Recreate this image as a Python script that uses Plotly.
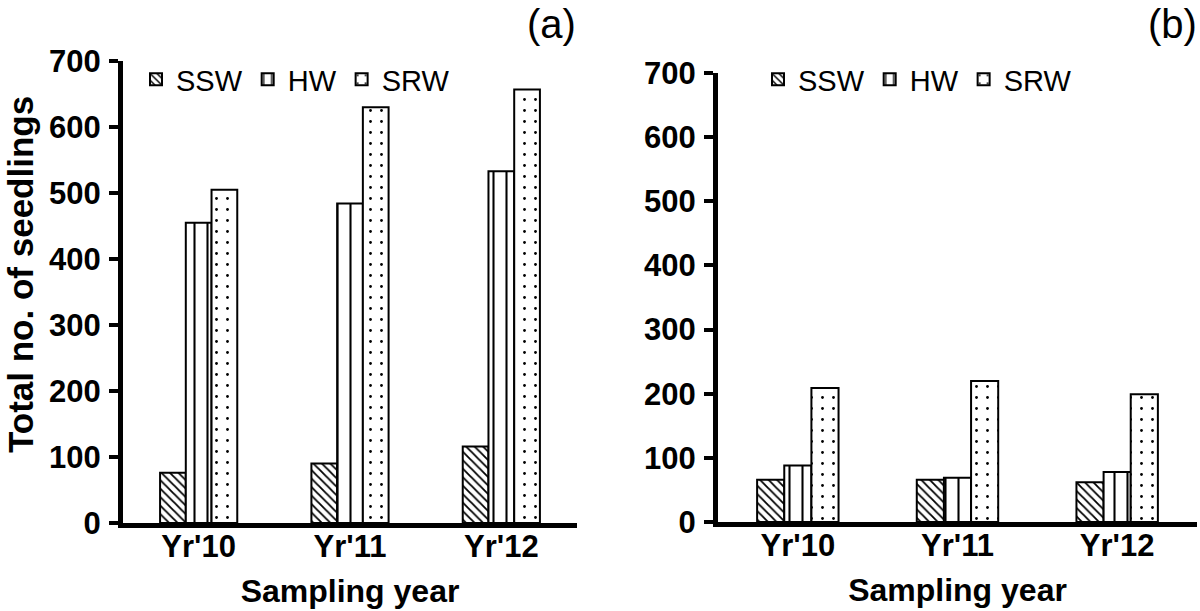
import plotly.graph_objects as go

categories = ["Yr'10", "Yr'11", "Yr'12"]
series_names = ["SSW", "HW", "SRW"]
a_ssw = [76, 90, 116]
a_hw = [455, 484, 533]
a_srw = [505, 630, 657]
b_ssw = [66, 66, 62]
b_hw = [88, 69, 78]
b_srw = [209, 220, 199]
y_ticks = [0, 100, 200, 300, 400, 500, 600, 700]

W, H = 1200, 611
FONT = "Liberation Sans, Arial, sans-serif"

patterns = {
    "SSW": dict(shape="\\", size=6, solidity=0.3),
    "HW": dict(shape="|", size=13, solidity=0.16),
    "SRW": dict(shape=".", size=11, solidity=0.05),
}

fig = go.Figure()


def add_panel(vals, xa, ya, legend):
    for name, v in zip(series_names, vals):
        p = patterns[name]
        fig.add_trace(go.Bar(
            x=categories, y=v, name=name, xaxis=xa, yaxis=ya, legend=legend,
            marker=dict(color="white", line=dict(color="black", width=2),
                        pattern=dict(shape=p["shape"], size=p["size"], solidity=p["solidity"],
                                     fgcolor="black", bgcolor="white", fillmode="replace")),
            hoverinfo="x+y+name",
        ))


add_panel([a_ssw, a_hw, a_srw], "x", "y", "legend")
add_panel([b_ssw, b_hw, b_srw], "x2", "y2", "legend2")


def px_x(p):
    return p / W


def px_y(p):
    return 1 - p / H


tickfont = dict(family=FONT, size=31, color="black", weight="bold")
titlefont = dict(family=FONT, size=32, color="black", weight="bold")

xcommon = dict(type="category", range=[-0.5, 2.5], showline=True, linecolor="black", linewidth=5,
               ticks="", tickfont=tickfont, showgrid=False, zeroline=False, automargin=False,
               ticklabelstandoff=-8, title=dict(text="Sampling year", font=titlefont, standoff=18))
ycommon = dict(range=[0, 700], tickvals=y_ticks, showline=True, linecolor="black", linewidth=5,
               ticks="outside", ticklen=9, tickwidth=4, tickcolor="black", tickfont=tickfont,
               showgrid=False, zeroline=False, automargin=False, ticklabelstandoff=2)

legfont = dict(family=FONT, size=29, color="black")

fig.update_layout(
    width=W, height=H,
    margin=dict(l=0, r=0, t=0, b=0),
    paper_bgcolor="white", plot_bgcolor="white",
    barmode="group", bargap=0.49, bargroupgap=0,
    font=dict(family=FONT, color="black"),
    xaxis=dict(domain=[px_x(123), px_x(577)], anchor="y", **xcommon),
    yaxis=dict(domain=[px_y(523), px_y(61)], anchor="x", **ycommon),
    xaxis2=dict(domain=[px_x(718), px_x(1197)], anchor="y2", **xcommon),
    yaxis2=dict(domain=[px_y(522), px_y(73)], anchor="x2", **ycommon),
    legend=dict(orientation="h", x=px_x(136), y=px_y(54), xanchor="left", yanchor="top",
                font=legfont, bgcolor="rgba(0,0,0,0)",
                itemwidth=30, itemclick=False, itemdoubleclick=False),
    legend2=dict(orientation="h", x=px_x(758), y=px_y(54), xanchor="left", yanchor="top",
                 font=legfont, bgcolor="rgba(0,0,0,0)",
                 itemwidth=30, itemclick=False, itemdoubleclick=False),
    annotations=[
        dict(text="Total no. of seedlings", textangle=-90, x=px_x(20), y=px_y(275),
             xref="paper", yref="paper", xanchor="center", yanchor="middle", showarrow=False,
             font=dict(family=FONT, size=35, color="black", weight="bold")),
        dict(text="(a)", x=px_x(578), y=px_y(24), xref="paper", yref="paper", xanchor="right",
             yanchor="middle", showarrow=False, font=dict(family=FONT, size=40, color="black")),
        dict(text="(b)", x=px_x(1199), y=px_y(24), xref="paper", yref="paper", xanchor="right",
             yanchor="middle", showarrow=False, font=dict(family=FONT, size=40, color="black")),
    ],
)

fig.write_html("out.html", config={"displayModeBar": False},
               post_script="document.body.style.margin='0px';")
